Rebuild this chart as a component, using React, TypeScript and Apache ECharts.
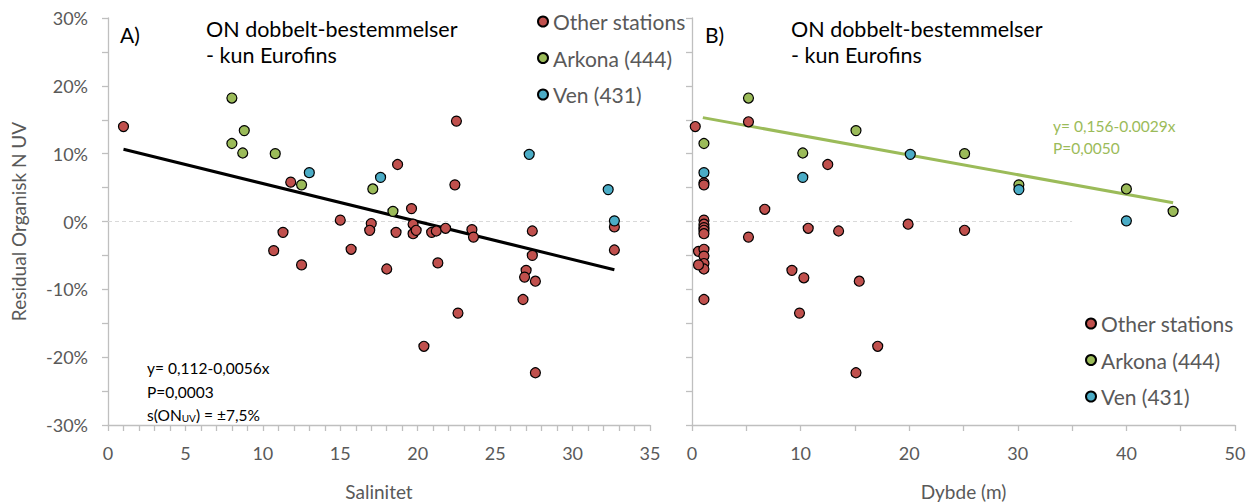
import { useEffect, useRef } from "react";
import * as echarts from "echarts";

// Residuals (%) against salinity, per station group
const otherVsSalinity: [number, number][] = [
  [1.0, 14.0], [11.8, 5.8], [11.3, -1.6], [10.7, -4.3], [12.5, -6.4],
  [22.5, 14.8], [18.7, 8.4], [22.4, 5.4], [19.6, 1.9], [15.0, 0.2],
  [17.0, -0.3], [16.9, -1.3], [18.6, -1.6], [19.7, -0.4], [19.7, -1.8],
  [19.9, -1.3], [20.9, -1.6], [21.2, -1.4], [21.8, -1.0], [23.5, -1.2],
  [23.6, -2.3], [15.7, -4.1], [18.0, -7.0], [21.3, -6.1], [32.7, -0.8],
  [32.7, -4.2], [27.4, -1.4], [27.4, -5.0], [27.0, -7.2], [26.9, -8.2],
  [27.6, -8.8], [26.8, -11.5], [22.6, -13.5], [20.4, -18.4], [27.6, -22.3],
];
const arkonaVsSalinity: [number, number][] = [
  [8.0, 18.2], [8.8, 13.4], [8.0, 11.5], [8.7, 10.1], [10.8, 10.0],
  [12.5, 5.4], [17.1, 4.8], [18.4, 1.5],
];
const venVsSalinity: [number, number][] = [
  [13.0, 7.2], [17.6, 6.5], [27.2, 9.9], [32.3, 4.7], [32.7, 0.1],
];

// Residuals (%) against depth (m), per station group
const otherVsDepth: [number, number][] = [
  [0.3, 14.0], [5.2, 14.7], [12.5, 8.4], [1.1, 5.7], [1.1, 5.4],
  [6.7, 1.8], [1.1, 0.2], [1.1, -0.4], [1.1, -0.9], [1.1, -1.3],
  [1.1, -1.8], [5.2, -2.3], [10.7, -1.0], [13.5, -1.4], [19.9, -0.4],
  [25.1, -1.3], [0.6, -4.4], [1.1, -4.1], [1.1, -5.1], [1.1, -6.2],
  [1.1, -7.0], [0.6, -6.4], [9.2, -7.2], [10.3, -8.3], [15.4, -8.8],
  [1.1, -11.5], [9.9, -13.5], [17.1, -18.4], [15.1, -22.3],
];
const arkonaVsDepth: [number, number][] = [
  [5.2, 18.2], [15.1, 13.4], [1.1, 11.5], [10.2, 10.1], [25.1, 10.0],
  [30.1, 5.4], [40.0, 4.8], [44.3, 1.5],
];
const venVsDepth: [number, number][] = [
  [1.1, 7.2], [10.2, 6.5], [20.1, 9.9], [30.1, 4.7], [40.0, 0.1],
];

// Linear fits: residual = intercept + slope * x (as fractions), over the x range shown
const salinityFit = { intercept: 0.112, slope: -0.0056, from: 1.0, to: 32.7 };
const depthFit = { intercept: 0.156, slope: -0.0029, from: 1.0, to: 44.3 };

const yTicks = [-30, -20, -10, 0, 10, 20, 30];
const groupNames = ["Other stations", "Arkona (444)", "Ven (431)"];
const groupColors = ["#C0504D", "#9BBB59", "#4BACC6"];

const FONT = "Lato, 'Open Sans', sans-serif";
const GREY_TEXT = "#595959";
const AXIS_GREY = "#BFBFBF";

function fitLine(f: { intercept: number; slope: number; from: number; to: number }) {
  return [f.from, f.to].map((x) => [x, 100 * (f.intercept + f.slope * x)]);
}

export default function App() {
  const ref = useRef<HTMLDivElement>(null);

  useEffect(() => {
    if (!ref.current) return;
    const chart = echarts.init(ref.current, undefined, { renderer: "svg" });

    const scatter = (name: string, color: string, data: [number, number][], idx: number) => ({
      type: "scatter",
      name,
      xAxisIndex: idx,
      yAxisIndex: idx,
      data,
      symbol: "circle",
      symbolSize: 10,
      itemStyle: { color, borderColor: "#000", borderWidth: 1.2, opacity: 1 },
      z: 5,
    });

    const xAxisBase = {
      type: "value",
      nameLocation: "middle",
      nameGap: 57,
      nameTextStyle: { fontFamily: FONT, fontSize: 19, color: GREY_TEXT },
      axisLine: { show: true, onZero: false, lineStyle: { color: AXIS_GREY, width: 1.3 } },
      axisTick: { show: true, length: 6, lineStyle: { color: AXIS_GREY, width: 1.3 } },
      axisLabel: { fontFamily: FONT, fontSize: 18, color: GREY_TEXT, margin: 19 },
      splitLine: { show: false },
    };

    const yAxisBase = {
      type: "value",
      min: -30,
      max: 30,
      interval: 10,
      axisLine: { show: true, onZero: false, lineStyle: { color: AXIS_GREY, width: 1.3 } },
      axisTick: { show: true, length: 6, lineStyle: { color: AXIS_GREY, width: 1.3 } },
      minorTick: { show: true, splitNumber: 2, length: 6, lineStyle: { color: AXIS_GREY, width: 1.3 } },
      splitLine: { show: false },
    };

    const legendBase = {
      orient: "vertical",
      icon: "circle",
      itemWidth: 10,
      itemHeight: 10,
      itemGap: 15.5,
      data: groupNames,
      textStyle: { fontFamily: FONT, fontSize: 21, lineHeight: 21, color: GREY_TEXT },
      selectedMode: false,
    };

    const zeroLine = (idx: number) => ({
      type: "line",
      xAxisIndex: idx,
      yAxisIndex: idx,
      data: [[0, 0], [35, 0]],
      symbol: "none",
      silent: true,
      lineStyle: { color: "#D9D9D9", width: 1, type: [4, 3] },
      z: 1,
    });

    const text = (x: number, y: number, t: string, size: number, color: string) => ({
      type: "text",
      x,
      y,
      style: {
        text: t,
        fontFamily: FONT,
        fontSize: size,
        fill: color,
        verticalAlign: "middle",
        align: "left",
      },
    });

    chart.setOption({
      animation: false,
      backgroundColor: "#fff",
      grid: [
        { left: 108, right: 602, top: 18, bottom: 78, containLabel: false, outerBoundsMode: "none" },
        { left: 692, right: 17, top: 18, bottom: 78, containLabel: false, outerBoundsMode: "none" },
      ],
      xAxis: [
        {
          ...xAxisBase,
          gridIndex: 0,
          name: "Salinitet",
          min: 0,
          max: 35,
          interval: 5,
          minorTick: { show: true, splitNumber: 5, length: 6, lineStyle: { color: AXIS_GREY, width: 1.3 } },
        },
        {
          ...xAxisBase,
          gridIndex: 1,
          name: "Dybde (m)",
          min: 0,
          max: 50,
          interval: 10,
          minorTick: { show: true, splitNumber: 2, length: 6, lineStyle: { color: AXIS_GREY, width: 1.3 } },
        },
      ],
      yAxis: [
        {
          ...yAxisBase,
          gridIndex: 0,
          name: "Residual Organisk N UV",
          nameLocation: "middle",
          nameGap: 80,
          nameTextStyle: { fontFamily: FONT, fontSize: 19, color: GREY_TEXT },
          axisLabel: {
            fontFamily: FONT,
            fontSize: 18,
            color: GREY_TEXT,
            margin: 20,
            formatter: (v: number) => (yTicks.includes(v) ? `${v}%` : ""),
          },
        },
        {
          ...yAxisBase,
          gridIndex: 1,
          axisLabel: { show: false },
        },
      ],
      legend: [
        { ...legendBase, left: 532, top: 6 },
        { ...legendBase, left: 1080, top: 308 },
      ],
      series: [
        zeroLine(0),
        zeroLine(1),
        {
          type: "line",
          xAxisIndex: 0,
          yAxisIndex: 0,
          data: fitLine(salinityFit),
          symbol: "none",
          silent: true,
          lineStyle: { color: "#000", width: 3 },
          z: 3,
        },
        {
          type: "line",
          xAxisIndex: 1,
          yAxisIndex: 1,
          data: fitLine(depthFit),
          symbol: "none",
          silent: true,
          lineStyle: { color: "#9BBB59", width: 3 },
          z: 3,
        },
        scatter(groupNames[0], groupColors[0], otherVsSalinity, 0),
        scatter(groupNames[1], groupColors[1], arkonaVsSalinity, 0),
        scatter(groupNames[2], groupColors[2], venVsSalinity, 0),
        scatter(groupNames[0], groupColors[0], otherVsDepth, 1),
        scatter(groupNames[1], groupColors[1], arkonaVsDepth, 1),
        scatter(groupNames[2], groupColors[2], venVsDepth, 1),
      ],
      graphic: [
        text(120, 34, "A)", 21, "#000"),
        text(206, 29, "ON dobbelt-bestemmelser", 21.5, "#000"),
        text(206, 55, "- kun Eurofins", 21.5, "#000"),
        text(705, 34, "B)", 21, "#000"),
        text(791, 29, "ON dobbelt-bestemmelser", 21.5, "#000"),
        text(791, 55, "- kun Eurofins", 21.5, "#000"),
        text(147, 368, "y= 0,112-0,0056x", 15.5, "#000"),
        text(147, 392, "P=0,0003", 15.5, "#000"),
        {
          type: "text",
          x: 147,
          y: 415,
          style: {
            text: "s(ON{sub|UV}) = ±7,5%",
            fontFamily: FONT,
            fontSize: 15.5,
            fill: "#000",
            verticalAlign: "middle",
            align: "left",
            rich: {
              sub: { fontFamily: FONT, fontSize: 10, fill: "#000", padding: [5, 0, 0, 0] },
            },
          },
        },
        text(1053, 126, "y= 0,156-0.0029x", 15.5, "#9BBB59"),
        text(1053, 148, "P=0,0050", 15.5, "#9BBB59"),
      ],
    });

    return () => chart.dispose();
  }, []);

  return (
    <div
      ref={ref}
      style={{ position: "fixed", left: 0, top: 0, width: 1252, height: 503 }}
    />
  );
}
